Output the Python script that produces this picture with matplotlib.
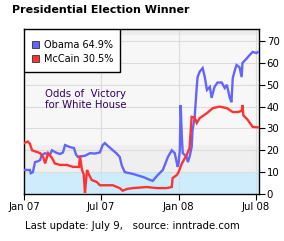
import numpy as np
import matplotlib
matplotlib.use("Agg")
import matplotlib.pyplot as plt
import matplotlib.dates as mdates
from matplotlib.patches import Rectangle

# Obama odds (%)
obama_dates = ["2007-01-01", "2007-01-15", "2007-01-17", "2007-01-22", "2007-01-27",
               "2007-02-03", "2007-02-08", "2007-02-12", "2007-02-20", "2007-03-03",
               "2007-03-08", "2007-03-17", "2007-03-27", "2007-04-03", "2007-04-08",
               "2007-04-19", "2007-04-29", "2007-05-04", "2007-05-08", "2007-05-25",
               "2007-06-06", "2007-06-17", "2007-06-29", "2007-07-06", "2007-07-11",
               "2007-07-18", "2007-07-30", "2007-08-08", "2007-08-15", "2007-08-20",
               "2007-08-27", "2007-09-15", "2007-10-09", "2007-10-25", "2007-11-01",
               "2007-11-13", "2007-11-25", "2007-12-07", "2007-12-16", "2007-12-23",
               "2007-12-30", "2008-01-01", "2008-01-04", "2008-01-06", "2008-01-09",
               "2008-01-11", "2008-01-20", "2008-01-23", "2008-01-27", "2008-02-01",
               "2008-02-03", "2008-02-08", "2008-02-13", "2008-02-15", "2008-02-20",
               "2008-02-27", "2008-03-03", "2008-03-08", "2008-03-15", "2008-03-19",
               "2008-03-26", "2008-04-02", "2008-04-12", "2008-04-19", "2008-04-24",
               "2008-05-01", "2008-05-05", "2008-05-08", "2008-05-13", "2008-05-17",
               "2008-05-24", "2008-05-29", "2008-05-31", "2008-06-10", "2008-06-17",
               "2008-06-24", "2008-07-03", "2008-07-06"]
obama_vals = [11, 11, 9.5, 10, 14.6,
              15, 15.5, 17.8, 18.7, 17.8,
              20, 19, 18.3, 19, 22.4,
              21.5, 21, 18, 17, 17.5,
              18.7, 18.5, 19, 22.4, 23.3,
              22, 20, 18.5, 17, 13,
              10, 9.2, 7.8, 6.5, 6,
              8.7, 11, 17, 20, 18.7,
              12.4, 14, 20, 40.7, 25,
              18.7, 17, 14.6, 17, 21.5,
              29, 35, 49, 53.5, 56,
              57.6, 53.5, 47.6, 49, 44,
              49, 51, 51, 48.5, 50,
              44, 42, 53, 56.7, 59,
              58, 53.5, 60, 62, 63.6,
              65, 64.5, 64.9]

# McCain odds (%)
mccain_dates = ["2007-01-01", "2007-01-10", "2007-01-15", "2007-01-20", "2007-02-01",
                "2007-02-08", "2007-02-15", "2007-02-20", "2007-02-27", "2007-03-08",
                "2007-03-15", "2007-03-27", "2007-04-12", "2007-04-27", "2007-05-11",
                "2007-05-13", "2007-05-18", "2007-05-22", "2007-05-25", "2007-05-27",
                "2007-05-30", "2007-06-03", "2007-06-10", "2007-06-22", "2007-06-29",
                "2007-07-16", "2007-07-30", "2007-08-11", "2007-08-15", "2007-08-22",
                "2007-09-01", "2007-09-15", "2007-10-18", "2007-11-11", "2007-12-04",
                "2007-12-16", "2007-12-18", "2007-12-28", "2008-01-01", "2008-01-09",
                "2008-01-20", "2008-01-27", "2008-02-01", "2008-02-08", "2008-02-13",
                "2008-02-20", "2008-03-08", "2008-03-22", "2008-04-07", "2008-04-24",
                "2008-05-08", "2008-05-20", "2008-05-29", "2008-05-31", "2008-06-02",
                "2008-06-12", "2008-06-24", "2008-07-06"]
mccain_vals = [23.3, 24, 23, 20, 19.2,
               18.7, 17, 14, 18.7, 16.5,
               14, 13.3, 13.3, 12.4, 12.4,
               17.5, 11, 9, 0.5, 5,
               11, 9, 6.4, 5.5, 4,
               4, 4, 3, 2.7, 1.5,
               2.3, 2.7, 3.2, 2.7, 2.7,
               3.2, 7.3, 8.7, 10, 14,
               17.8, 21, 35.3, 35, 32.5,
               34.7, 37, 39.3, 40, 39.3,
               37.5, 37.5, 38, 40.7, 36,
               34, 30.7, 30.5]

names = ["Obama", "McCain"]
latest = [64.9, 30.5]
colors = ["#6464ff", "#ff3232"]

x_ticks = ["2007-01-01", "2007-07-01", "2008-01-01", "2008-07-01"]
y_ticks = [0, 10, 20, 30, 40, 50, 60, 70]

fig = plt.figure(figsize=(2.84, 2.41), dpi=100)
fig.patch.set_facecolor("white")
ax = fig.add_axes([24 / 284, 1 - 194 / 241, 235 / 284, 165 / 241])

# background bands
ax.axhspan(0, 10, color="#cdedfd", zorder=0, lw=0)
ax.axhspan(10, 22.4, color="#efefef", zorder=0, lw=0)
ax.axhspan(22.4, 72.8, color="#f7f7f7", zorder=0, lw=0)
ax.axhspan(72.8, 76, color="#ececec", zorder=0, lw=0)

for yv in y_ticks[1:]:
    ax.axhline(yv, color="#dcdcdc", lw=0.8, zorder=1)
for xv in x_ticks[1:]:
    ax.axvline(np.datetime64(xv), color="#dcdcdc", lw=0.8, zorder=1)

ax.plot(np.array(obama_dates, dtype="datetime64[D]"), obama_vals,
        color=colors[0], lw=1.7, zorder=3, solid_joinstyle="miter")
ax.plot(np.array(mccain_dates, dtype="datetime64[D]"), mccain_vals,
        color=colors[1], lw=1.7, zorder=3, solid_joinstyle="miter")

ax.set_xlim(np.datetime64("2007-01-01"), np.datetime64("2008-07-09"))
ax.set_ylim(0, 75.5)

ax.set_xticks(np.array(x_ticks, dtype="datetime64[D]"))
ax.xaxis.set_major_formatter(mdates.DateFormatter("%b %y"))
ax.set_yticks(y_ticks)
ax.yaxis.tick_right()
ax.tick_params(axis="both", direction="out", length=4, width=0.8,
               labelsize=7.3, colors="black", pad=1.5)
for s in ax.spines.values():
    s.set_linewidth(1.0)
    s.set_color("black")

# legend box
ax.add_patch(Rectangle((0, 0.739), 0.409, 0.261, transform=ax.transAxes,
                       facecolor="white", edgecolor="black", lw=1.0, zorder=5))
for i, (nm, val, c) in enumerate(zip(names, latest, colors)):
    yc = 0.905 - i * 0.085
    ax.add_patch(Rectangle((0.034, yc - 0.02), 0.028, 0.04, transform=ax.transAxes,
                           facecolor=c, edgecolor="#333333", lw=0.6, zorder=6))
    ax.text(0.085, yc, f"{nm} {val}%", transform=ax.transAxes, fontsize=7.0,
            va="center", ha="left", zorder=6)

ax.text(0.09, 0.635, "Odds of  Victory\nfor White House", transform=ax.transAxes,
        fontsize=7.3, color="#330066", va="top", ha="left", linespacing=1.15)

fig.text(12 / 284, 1 - 10 / 241, "Presidential Election Winner", fontsize=8,
         fontweight="bold", va="center", ha="left")
fig.text(25 / 284, 1 - 226 / 241, "Last update: July 9,   source: inntrade.com",
         fontsize=7.3, va="center", ha="left")

fig.savefig("out.png", dpi=100)
